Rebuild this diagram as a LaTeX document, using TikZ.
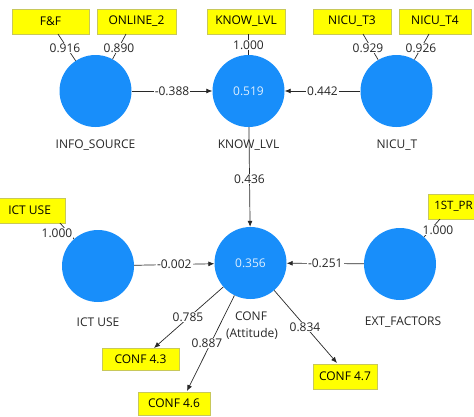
\documentclass[tikz,border=0pt]{standalone}
\usepackage{fontspec}
\setmainfont{Open Sans}
\usetikzlibrary{arrows.meta}
\definecolor{lvblue}{RGB}{24,142,250}
\definecolor{boxyellow}{RGB}{255,255,0}
\definecolor{boxedge}{RGB}{200,200,90}
\definecolor{linegray}{RGB}{40,40,40}
\tikzset{
  latent/.style={circle,fill=lvblue,minimum size=72pt,inner sep=0pt,text=white!85!lvblue,font=\fontsize{12}{14}\selectfont},
  ind/.style={rectangle,fill=boxyellow,draw=boxedge,line width=0.6pt,minimum height=25pt,inner sep=0pt,font=\fontsize{12}{14}\selectfont},
  lbl/.style={font=\fontsize{12}{14}\selectfont,text=black!85,inner sep=1pt},
  wlbl/.style={lbl,fill=white},
  conn/.style={draw=linegray,line width=0.7pt},
  arr/.style={conn,-{Latex[length=6pt,width=5pt]}}
}
\begin{document}
\begin{tikzpicture}[x=1pt,y=-1pt]
\useasboundingbox (0,0) rectangle (474,416);
\clip (0,0) rectangle (474,416);
% indicator boxes
\node[ind,minimum width=77pt] (ff) at (50.5,21.5) {F\&F};
\node[ind,minimum width=79pt] (onl) at (136.5,21.5) {ONLINE\_2};
\node[ind,minimum width=78pt] (knb) at (246,21.5) {KNOW\_LVL};
\node[ind,minimum width=78pt] (nt3) at (352,21.5) {NICU\_T3};
\node[ind,minimum width=72pt] (nt4) at (435,21.5) {NICU\_T4};
\node[ind,minimum height=25pt,anchor=west] (ictb) at (-2,210.5) {\hspace*{10pt}ICT USE\hspace*{14pt}};
\node[ind,minimum height=25pt,anchor=west,font=\fontsize{11.5}{14}\selectfont] (prb) at (428,206.5) {\hspace*{6pt}1ST\_PR\hspace*{20pt}};
\node[ind,minimum width=77pt,minimum height=22pt] (c43) at (140.5,359.5) {CONF 4.3};
\node[ind,minimum width=72pt,minimum height=23pt] (c46) at (174,403.5) {CONF 4.6};
\node[ind,minimum width=64pt,minimum height=25pt] (c47) at (345,376.5) {CONF 4.7};
% latent variables
\node[latent] (info) at (95.5,91) {};
\node[latent] (know) at (248.5,91) {0.519};
\node[latent] (nicu) at (396.5,91) {};
\node[latent] (ict) at (98,266) {};
\node[latent] (conf) at (250.5,263) {0.356};
\node[latent] (ext) at (400,264) {};
% outer loading lines
\coordinate (ffp) at (58,34);
\coordinate (onp) at (126,34);
\coordinate (kbp) at (248.5,34);
\coordinate (t3p) at (363,34);
\coordinate (t4p) at (429,34);
\coordinate (icp) at (60,223);
\coordinate (prp) at (440,219);
\draw[conn] (info) -- (ffp);
\draw[conn] (info) -- (onp);
\draw[conn] (know) -- (kbp);
\draw[conn] (nicu) -- (t3p);
\draw[conn] (nicu) -- (t4p);
\draw[conn] (ict) -- (icp);
\draw[conn] (ext) -- (prp);
\node[wlbl] (l1) at (65,48) {0.916};
\node[wlbl] (l2) at (119,48) {0.890};
\node[wlbl] (l3) at (248.5,45) {1.000};
\node[wlbl] (l4) at (368,48) {0.929};
\node[wlbl] (l5) at (421,48) {0.926};
\node[wlbl] (l6) at (57,233) {1.000};
\node[wlbl] (l7) at (438,230) {1.000};
% structural paths
\draw[arr] (info) -- node[wlbl]{-0.388} (know);
\draw[arr] (nicu) -- node[wlbl]{0.442} (know);
\draw[arr] (know) -- node[wlbl,pos=0.52]{0.436} (conf);
\draw[arr] (ict) -- node[wlbl,pos=0.5]{-0.002} (conf);
\draw[arr] (ext) -- node[wlbl,pos=0.5]{-0.251} (conf);
% construct names
\node[lbl] (n1) at (95.5,145) {INFO\_SOURCE};
\node[lbl] (n2) at (248.5,145) {KNOW\_LVL};
\node[lbl] (n3) at (397,145) {NICU\_T};
\node[lbl] (n4) at (98,322) {ICT USE};
\node[lbl] (n5) at (251,316) {CONF};
\node[lbl] (n6) at (252,334) {(Attitude)};
\node[lbl] (n7) at (403,322) {EXT\_FACTORS};
% outer loadings of CONF
\coordinate (c43p) at (154,348);
\coordinate (c46p) at (187,391);
\coordinate (c47p) at (337,363);
\draw[arr] (conf) -- (c43p);
\draw[arr] (conf) -- (c46p);
\draw[arr] (conf) -- (c47p);
\node[wlbl] (l8) at (188,317) {0.785};
\node[wlbl] (l9) at (207,343) {0.887};
\node[wlbl] (l10) at (305,327) {0.834};
\end{tikzpicture}
\end{document}
